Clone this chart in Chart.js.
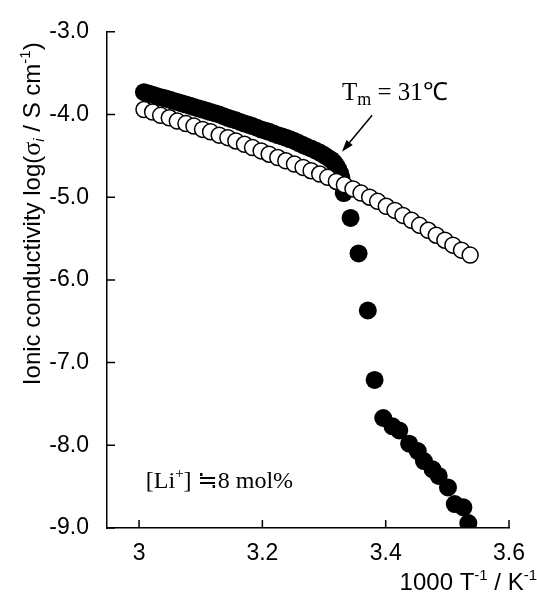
<!DOCTYPE html>
<html>
<head>
<meta charset="utf-8">
<script src="https://cdn.jsdelivr.net/npm/chart.js@4.4.0/dist/chart.umd.min.js"></script>
<style>
  html, body { margin: 0; padding: 0; background: #fff; }
</style>
</head>
<body>
<canvas id="chart" width="537" height="592"></canvas>
<script>
// tick labels
const xTicks = [3, 3.2, 3.4, 3.6];
const yTicks = [-3, -4, -5, -6, -7, -8, -9];

// open circles
const openX = [3.008, 3.022, 3.035, 3.049, 3.062, 3.076, 3.089, 3.103, 3.116, 3.130,
               3.144, 3.157, 3.171, 3.184, 3.198, 3.211, 3.225, 3.238, 3.252, 3.266,
               3.279, 3.293, 3.306, 3.320, 3.333, 3.347, 3.360, 3.374, 3.387, 3.401,
               3.415, 3.428, 3.442, 3.455, 3.469, 3.482, 3.496, 3.509, 3.523, 3.537];
const openY = [-3.94, -3.97, -4.01, -4.04, -4.08, -4.11, -4.14, -4.18, -4.21, -4.25,
               -4.28, -4.32, -4.36, -4.40, -4.44, -4.48, -4.52, -4.56, -4.60, -4.64,
               -4.68, -4.72, -4.76, -4.81, -4.85, -4.90, -4.95, -5.00, -5.05, -5.11,
               -5.16, -5.22, -5.28, -5.34, -5.40, -5.46, -5.52, -5.58, -5.64, -5.70];

// filled circles
const solidX = [3.008, 3.015, 3.022, 3.028, 3.035, 3.042, 3.049, 3.055, 3.062, 3.069,
                3.076, 3.083, 3.089, 3.096, 3.103, 3.110, 3.116, 3.123, 3.130, 3.137,
                3.144, 3.150, 3.157, 3.164, 3.171, 3.178, 3.184, 3.191, 3.198, 3.205,
                3.211, 3.218, 3.225, 3.232, 3.238, 3.245, 3.252, 3.259, 3.266, 3.272,
                3.279, 3.286, 3.293, 3.300, 3.306, 3.312, 3.316, 3.320, 3.323, 3.326,
                3.328, 3.332, 3.343, 3.356, 3.371, 3.382, 3.396, 3.411, 3.422, 3.438,
                3.452, 3.462, 3.476, 3.486, 3.501, 3.512, 3.526, 3.534];
const solidY = [-3.73, -3.745, -3.76, -3.775, -3.79, -3.805, -3.82, -3.835, -3.85, -3.865,
                -3.88, -3.895, -3.91, -3.925, -3.94, -3.955, -3.97, -3.985, -4.00, -4.02,
                -4.04, -4.055, -4.07, -4.09, -4.11, -4.125, -4.14, -4.16, -4.18, -4.195,
                -4.21, -4.23, -4.25, -4.265, -4.28, -4.30, -4.32, -4.345, -4.37, -4.39,
                -4.41, -4.435, -4.46, -4.49, -4.52, -4.55, -4.58, -4.62, -4.66, -4.71,
                -4.76, -4.95, -5.25, -5.68, -6.37, -7.21, -7.67, -7.77, -7.82, -7.98,
                -8.07, -8.19, -8.29, -8.37, -8.51, -8.71, -8.75, -8.94];

const toPts = (xs, ys) => xs.map((x, i) => ({ x: x, y: ys[i] }));

const SANS = '"Liberation Sans", Arial, sans-serif';
const SERIF = '"Liberation Serif", "Times New Roman", serif';

// draw text made of pieces (for sub/superscripts)
function rich(ctx, parts, x, y, align) {
  let w = 0;
  parts.forEach(p => { ctx.font = p[1]; w += ctx.measureText(p[0]).width; });
  let cx = align === 'right' ? x - w : align === 'center' ? x - w / 2 : x;
  ctx.textAlign = 'left';
  ctx.textBaseline = 'alphabetic';
  parts.forEach(p => {
    ctx.font = p[1];
    ctx.fillText(p[0], cx, y + (p[2] || 0));
    cx += ctx.measureText(p[0]).width;
  });
}

const decor = {
  id: 'decor',
  afterDraw(chart) {
    const ctx = chart.ctx;
    const xs = chart.scales.x, ys = chart.scales.y;
    const area = chart.chartArea;
    ctx.save();
    ctx.strokeStyle = '#000';
    ctx.fillStyle = '#000';
    ctx.lineWidth = 1.5;
    // inward tick marks
    ctx.beginPath();
    xTicks.forEach(v => {
      const px = xs.getPixelForValue(v);
      ctx.moveTo(px, area.bottom);
      ctx.lineTo(px, area.bottom - 8);
    });
    yTicks.forEach(v => {
      const py = ys.getPixelForValue(v);
      ctx.moveTo(area.left, py);
      ctx.lineTo(area.left + 8, py);
    });
    ctx.stroke();

    // axis titles
    ctx.save();
    ctx.translate(40, ys.getPixelForValue(-5.2));
    ctx.rotate(-Math.PI / 2);
    rich(ctx, [
      ['Ionic conductivity log(', '24px ' + SANS],
      ['\u03C3', '26px ' + SERIF],
      ['i', 'italic 15px ' + SANS, 4],
      [' / S cm', '24px ' + SANS],
      ['-1', '15px ' + SANS, -10],
      [')', '24px ' + SANS]
    ], 0, 0, 'center');
    ctx.restore();

    rich(ctx, [
      ['1000 T', '24px ' + SANS],
      ['-1', '15px ' + SANS, -10],
      [' / K', '24px ' + SANS],
      ['-1', '15px ' + SANS, -10]
    ], 537, 590, 'right');

    // annotations
    rich(ctx, [
      ['T', '25px ' + SERIF],
      ['m', '18px ' + SERIF, 5],
      [' = 31\u2103', '25px ' + SERIF]
    ], xs.getPixelForValue(3.329), ys.getPixelForValue(-3.82), 'left');

    const ax1 = xs.getPixelForValue(3.378), ay1 = ys.getPixelForValue(-4.01);
    const ax2 = xs.getPixelForValue(3.329), ay2 = ys.getPixelForValue(-4.45);
    const ang = Math.atan2(ay2 - ay1, ax2 - ax1);
    ctx.lineWidth = 1.5;
    ctx.beginPath();
    ctx.moveTo(ax1, ay1);
    ctx.lineTo(ax2 - 8 * Math.cos(ang), ay2 - 8 * Math.sin(ang));
    ctx.stroke();
    ctx.beginPath();
    ctx.moveTo(ax2, ay2);
    ctx.lineTo(ax2 - 12 * Math.cos(ang) + 4 * Math.sin(ang), ay2 - 12 * Math.sin(ang) - 4 * Math.cos(ang));
    ctx.lineTo(ax2 - 12 * Math.cos(ang) - 4 * Math.sin(ang), ay2 - 12 * Math.sin(ang) + 4 * Math.cos(ang));
    ctx.closePath();
    ctx.fill();

    rich(ctx, [
      ['[Li', '24px ' + SERIF],
      ['+', '15px ' + SERIF, -10],
      ['] ', '24px ' + SERIF],
      ['\u2252', '24px "DejaVu Sans", ' + SERIF],
      ['8 mol%', '24px ' + SERIF]
    ], xs.getPixelForValue(3.011), ys.getPixelForValue(-8.52), 'left');
    ctx.restore();
  }
};

new Chart(document.getElementById('chart'), {
  type: 'scatter',
  data: {
    datasets: [
      {
        label: 'open',
        data: toPts(openX, openY),
        pointRadius: 8,
        pointHoverRadius: 8,
        pointBackgroundColor: '#fff',
        pointBorderColor: '#000',
        pointBorderWidth: 1.5,
        order: 0
      },
      {
        label: 'solid',
        data: toPts(solidX, solidY),
        pointRadius: 9,
        pointHoverRadius: 9,
        pointBackgroundColor: '#000',
        pointBorderColor: '#000',
        pointBorderWidth: 0,
        order: 1
      }
    ]
  },
  options: {
    responsive: false,
    animation: false,
    events: [],
    layout: { padding: { left: 0, right: 23, top: 24, bottom: 0 } },
    plugins: { legend: { display: false }, tooltip: { enabled: false } },
    scales: {
      x: {
        type: 'linear',
        min: 2.948,
        max: 3.6,
        afterBuildTicks: s => { s.ticks = xTicks.map(v => ({ value: v })); },
        afterFit: s => { s.height = 64; },
        grid: { display: false, drawTicks: false },
        border: { display: true, color: '#000', width: 1.5 },
        ticks: {
          padding: 12,
          color: '#000',
          font: { family: SANS, size: 23 },
          maxRotation: 0,
          callback: v => String(v)
        }
      },
      y: {
        type: 'linear',
        min: -9,
        max: -3,
        afterBuildTicks: s => { s.ticks = yTicks.map(v => ({ value: v })); },
        afterFit: s => { s.width = 107; },
        grid: { display: false, drawTicks: false },
        border: { display: true, color: '#000', width: 1.5 },
        ticks: {
          padding: 18,
          color: '#000',
          font: { family: SANS, size: 23 },
          callback: v => v.toFixed(1)
        }
      }
    }
  },
  plugins: [decor]
});
</script>
</body>
</html>
